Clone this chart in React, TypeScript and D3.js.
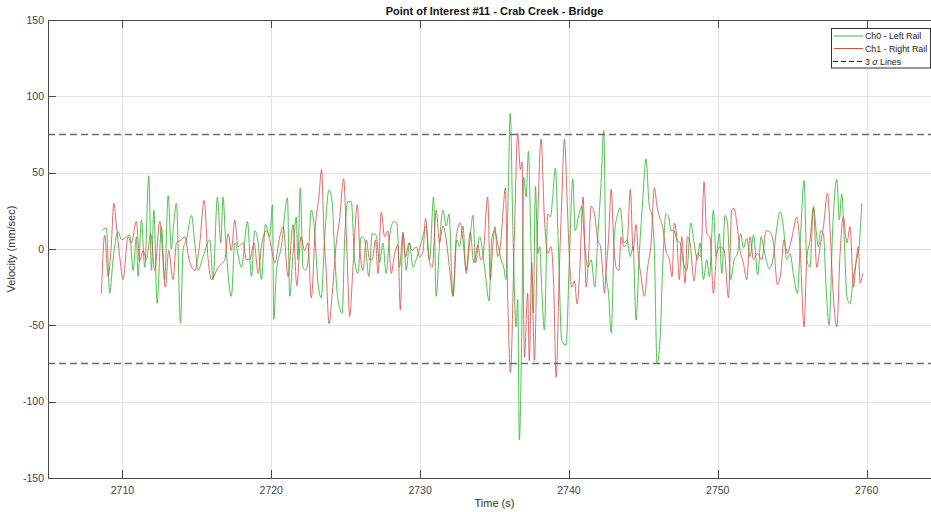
import React, { useEffect, useRef } from "react";
import * as d3 from "d3";

// Left rail velocity, [time (s), velocity (mm/sec)]
const ch0LeftRail: [number, number][] = [
  [2708.63, 12.4], [2708.92, 13.5], [2709.15, -29], [2709.37, -7], [2709.71, 11.4], [2709.93, 6], [2710.27, 8], [2710.49, 9],
  [2710.72, -14], [2710.94, 8], [2711.05, -18], [2711.28, 19], [2711.5, -12], [2711.77, 48], [2711.95, -14], [2712.11, 25.5],
  [2712.33, -35.6], [2712.62, 14.6], [2712.84, -20], [2713.07, 35], [2713.29, 0], [2713.45, 17], [2713.63, 30], [2713.9, -48.7],
  [2714.08, 0], [2714.3, 6], [2714.64, 22], [2714.86, 4], [2715.08, -14], [2715.42, -5], [2715.87, 6], [2716.09, -20],
  [2716.38, 34], [2716.61, 4], [2716.76, 34], [2716.92, 8], [2717.32, -31], [2717.55, 4], [2718.0, -12], [2718.4, 18],
  [2718.67, -18], [2718.89, 12], [2719.12, 4], [2719.34, -20], [2719.61, 16], [2719.9, 8], [2720.08, 29], [2720.17, -46],
  [2720.35, -14], [2720.68, 1.5], [2721.09, 33.6], [2721.24, -31], [2721.46, -3], [2721.68, 21], [2721.79, -7], [2721.95, 40],
  [2722.13, -12], [2722.31, -14], [2722.46, -9], [2722.69, 25.5], [2722.91, 12], [2723.14, -22.5], [2723.36, -32], [2723.58, 6],
  [2723.88, 38.6], [2724.1, 30], [2724.26, -3], [2724.48, -33], [2724.77, -42], [2724.93, 6], [2725.15, 31], [2725.38, 31],
  [2725.6, -7], [2725.82, -16], [2726.05, 8], [2726.27, 6], [2726.56, -18], [2726.78, 10], [2727.05, 9], [2727.28, -9],
  [2727.5, 4], [2727.72, -16], [2727.95, 8], [2728.22, 18], [2728.44, 17], [2728.62, -12], [2728.85, 11], [2729.07, -14],
  [2729.29, 4], [2729.52, -12], [2729.74, -7], [2730.08, 4], [2730.41, 15], [2730.64, -7], [2730.91, 34], [2731.08, -31],
  [2731.31, 4], [2731.53, 25.5], [2731.76, 15], [2731.94, 23], [2732.21, -31], [2732.47, 6], [2732.65, 1.5], [2732.88, 15],
  [2733.1, -16], [2733.33, 4], [2733.55, 22], [2733.73, -9], [2734.0, 8], [2734.33, -12], [2734.64, -34], [2734.81, 6],
  [2734.99, 12], [2735.21, 4], [2735.44, -7], [2735.62, -12], [2735.77, -20], [2735.93, 41], [2736.06, 89], [2736.24, 10],
  [2736.45, -51], [2736.56, -33], [2736.67, -125], [2736.83, -55], [2736.96, 47], [2737.12, 34], [2737.28, 64], [2737.46, -1],
  [2737.61, -42], [2737.75, 41], [2737.91, -3], [2738.04, 1.5], [2738.17, -25], [2738.35, -53], [2738.58, 23], [2738.76, 21],
  [2738.91, 34], [2739.09, 53], [2739.29, 1.5], [2739.52, -60], [2739.81, -63], [2740.03, -7], [2740.26, 46], [2740.42, 12],
  [2740.64, 21], [2740.86, 28], [2741.04, 6], [2741.27, -12], [2741.49, -7], [2741.74, -25], [2741.94, 8], [2742.16, 43],
  [2742.34, 77.5], [2742.5, -16], [2742.66, -29], [2742.84, -55], [2743.06, 10], [2743.28, 23], [2743.46, 27], [2743.69, 4],
  [2743.91, 6], [2744.13, -5], [2744.31, 1.5], [2744.51, -46.5], [2744.74, -1], [2744.96, 32], [2745.18, 59], [2745.4, 28],
  [2745.58, 22], [2745.74, -1], [2745.92, -75], [2746.12, -60], [2746.3, -12], [2746.52, 23], [2746.7, 21], [2746.86, 12],
  [2747.04, 12], [2747.26, 6], [2747.47, 4], [2747.69, -9], [2747.92, -14], [2748.19, 17], [2748.41, 4], [2748.63, -7],
  [2748.81, 4], [2749.04, -20], [2749.26, -7], [2749.44, -18], [2749.71, 25.5], [2749.89, -5], [2750.11, 10], [2750.27, -16],
  [2750.49, 22], [2750.65, 17], [2750.87, -20], [2751.1, -7], [2751.32, -3], [2751.55, 10], [2751.72, 0.5], [2751.95, 7],
  [2752.17, -5], [2752.4, 9], [2752.69, -17], [2752.91, 8], [2753.07, 1.5], [2753.25, -7], [2753.47, -13], [2753.74, -5],
  [2753.96, 13.5], [2754.19, 24.5], [2754.41, 14.6], [2754.63, -7], [2754.86, -3], [2755.08, -16], [2755.35, -29], [2755.58, 12],
  [2755.8, 45], [2755.98, -7], [2756.2, -12], [2756.43, 28], [2756.61, 12], [2756.76, 1.5], [2756.92, 12], [2757.1, 10],
  [2757.28, -25], [2757.48, -50], [2757.73, 14.6], [2758.0, 45.6], [2758.17, 19], [2758.33, 36], [2758.51, 4], [2758.67, -31],
  [2758.89, -36], [2759.12, -18], [2759.34, -7], [2759.52, 4], [2759.68, 30],
];

// Right rail velocity, [time (s), velocity (mm/sec)]
const ch1RightRail: [number, number][] = [
  [2708.59, -29], [2708.81, 9], [2709.04, -18], [2709.26, 4], [2709.42, 30], [2709.6, 15], [2709.82, -5], [2710.04, -20],
  [2710.38, 8], [2710.6, 4], [2710.94, 18], [2711.16, -8], [2711.39, -1], [2711.61, -7], [2711.9, 10], [2712.17, -14],
  [2712.51, 18], [2712.89, -25], [2713.11, -1], [2713.4, -20], [2713.63, 4], [2713.96, 6], [2714.19, 8], [2714.48, -7],
  [2714.86, -14], [2715.2, 4], [2715.49, 32], [2715.76, -7], [2715.98, -20], [2716.43, -12], [2716.88, -7], [2717.1, 10],
  [2717.32, -1], [2717.55, 19], [2717.77, 1.5], [2718.11, 4], [2718.33, -7], [2718.56, -7], [2718.85, 4], [2719.12, -16],
  [2719.34, 1.5], [2719.68, 12], [2719.9, 6], [2720.24, -9], [2720.57, 8], [2720.8, 14.6], [2721.13, -18], [2721.46, 16],
  [2721.72, -24], [2722.0, 8], [2722.24, -1], [2722.46, 4], [2722.69, -32], [2722.98, 17], [2723.2, 34], [2723.38, 52],
  [2723.54, 10], [2723.7, -16], [2723.88, -49], [2724.1, -29], [2724.37, 4], [2724.59, 19], [2724.86, 46], [2725.09, -3],
  [2725.27, -44], [2725.49, -12], [2725.78, 29], [2725.94, 1.5], [2726.16, -14], [2726.39, 6], [2726.61, -7], [2726.78, -7],
  [2727.01, 6], [2727.17, -16], [2727.39, 24], [2727.62, 8], [2727.84, 12], [2728.06, -16], [2728.29, -3], [2728.51, 2.6],
  [2728.67, -40], [2728.85, 10], [2729.03, -5], [2729.25, 4], [2729.48, -1], [2729.74, 1.5], [2729.97, -5], [2730.19, -2],
  [2730.37, 20], [2730.59, -7], [2730.82, -12], [2731.08, 25.5], [2731.31, 4], [2731.53, 15], [2731.76, 6], [2731.99, -14],
  [2732.21, -31], [2732.43, 8], [2732.7, 17], [2732.88, 6], [2733.1, -14], [2733.37, 11], [2733.61, -9], [2733.89, 2.6],
  [2734.07, -7], [2734.22, -5], [2734.54, 34], [2734.72, -20], [2734.88, 1.5], [2735.03, 14.6], [2735.21, -5], [2735.44, 6],
  [2735.6, 28], [2735.73, 40], [2735.89, -33], [2736.07, -81], [2736.34, 10], [2736.56, 76], [2736.74, 52], [2736.85, 57],
  [2737.01, -71], [2737.23, -29], [2737.34, -73], [2737.5, -9], [2737.68, -73], [2737.91, 21], [2738.13, 72], [2738.35, 21],
  [2738.58, -3], [2738.8, 1.5], [2738.98, -25], [2739.14, -84], [2739.36, -12], [2739.52, 32], [2739.7, 72], [2739.88, 32],
  [2740.03, -5], [2740.19, -25], [2740.37, -21], [2740.55, -36], [2740.71, -18], [2740.95, 34], [2741.16, -25], [2741.31, -7],
  [2741.49, 28], [2741.72, 23], [2741.94, 6], [2742.12, 1.5], [2742.28, -16], [2742.39, -29], [2742.5, -14], [2742.66, 6],
  [2742.84, 39], [2743.01, 4], [2743.17, -12], [2743.35, -14], [2743.51, 8], [2743.69, 1.5], [2743.91, 4], [2744.13, 39],
  [2744.31, -1], [2744.51, 16], [2744.67, -5], [2744.85, -18], [2745.07, -31], [2745.29, -12], [2745.52, 4], [2745.74, 40],
  [2745.92, 28], [2746.08, 21], [2746.3, 14.6], [2746.52, -1], [2746.75, -7], [2746.93, -18], [2747.09, 17], [2747.26, 6],
  [2747.42, -20], [2747.58, 8], [2747.8, -22.5], [2747.96, 8], [2748.14, 4], [2748.41, -21], [2748.63, -3], [2748.86, -5],
  [2749.08, 44], [2749.26, 10], [2749.48, 8], [2749.71, -29], [2749.93, -3], [2750.16, 1.5], [2750.43, -1], [2750.72, -32],
  [2750.94, 25.5], [2751.1, 26.6], [2751.28, 17], [2751.5, -1], [2751.72, -9], [2751.95, -20], [2752.17, 8], [2752.4, -7],
  [2752.67, -3], [2752.96, -7], [2753.25, 12], [2753.52, 11], [2753.74, 4], [2754.01, -23.5], [2754.23, -16], [2754.45, 6],
  [2754.68, -3], [2754.9, 4], [2755.08, 12], [2755.3, 21], [2755.53, 1.5], [2755.8, -51], [2755.98, -7], [2756.2, 6],
  [2756.43, 26.6], [2756.65, -12], [2756.88, 1.5], [2757.1, 14.6], [2757.37, 36.5], [2757.55, 12], [2757.73, -25], [2758.0, -51],
  [2758.22, -3], [2758.44, 21], [2758.67, 4], [2758.89, 14.6], [2759.12, -25], [2759.3, -7], [2759.45, 1.5], [2759.56, -22.5],
  [2759.74, -16],
];

const sigmaLevels = [75, -75];
const xTicks = [2710, 2720, 2730, 2740, 2750, 2760];
const yTicks = [-150, -100, -50, 0, 50, 100, 150];
const xDomain: [number, number] = [2705, 2765];
const yDomain: [number, number] = [-150, 150];

const titleText = "Point of Interest #11 - Crab Creek - Bridge";
const xLabelText = "Time (s)";
const yLabelText = "Velocity (mm/sec)";
const legendLabels = ["Ch0 - Left Rail", "Ch1 - Right Rail"];

const W = 931;
const H = 512;
const M = { left: 48, right: 941, top: 20, bottom: 478 };
const FONT = "'Liberation Sans', Arial, Helvetica, sans-serif";
const GREEN = "#3dbb3d";
const RED = "#d94a4a";
const AXIS = "#4a4a4a";

export default function App() {
  const ref = useRef<SVGSVGElement | null>(null);

  useEffect(() => {
    const svg = d3.select(ref.current);
    svg.selectAll("*").remove();

    const x = d3.scaleLinear().domain(xDomain).range([M.left, M.right]);
    const y = d3.scaleLinear().domain(yDomain).range([M.bottom, M.top]);

    svg.append("rect").attr("width", W).attr("height", H).attr("fill", "#fff");

    svg.append("defs").append("clipPath").attr("id", "plot-clip")
      .append("rect").attr("x", M.left).attr("y", M.top)
      .attr("width", M.right - M.left).attr("height", M.bottom - M.top);

    // grid
    const grid = svg.append("g").attr("stroke", "#e3e3e3").attr("stroke-width", 1);
    xTicks.forEach((t) => {
      const px = Math.round(x(t)) + 0.5;
      grid.append("line").attr("x1", px).attr("x2", px).attr("y1", M.top).attr("y2", M.bottom);
    });
    yTicks.forEach((t) => {
      const py = Math.round(y(t)) + 0.5;
      grid.append("line").attr("x1", M.left).attr("x2", M.right).attr("y1", py).attr("y2", py);
    });

    const plot = svg.append("g").attr("clip-path", "url(#plot-clip)");
    const line = d3.line<[number, number]>()
      .x((d) => x(d[0]))
      .y((d) => y(d[1]))
      .curve(d3.curveMonotoneX);

    plot.append("path").datum(ch0LeftRail).attr("d", line).attr("fill", "none")
      .attr("stroke", GREEN).attr("stroke-width", 0.9).attr("stroke-linejoin", "round");
    plot.append("path").datum(ch1RightRail).attr("d", line).attr("fill", "none")
      .attr("stroke", RED).attr("stroke-width", 0.9).attr("stroke-linejoin", "round").attr("opacity", 0.9);

    sigmaLevels.forEach((v) => {
      plot.append("line").attr("x1", M.left).attr("x2", M.right)
        .attr("y1", y(v)).attr("y2", y(v))
        .attr("stroke", "#6b6b6b").attr("stroke-width", 1.4).attr("stroke-dasharray", "7,4");
    });

    // axes box and ticks
    const ax = svg.append("g").attr("stroke", AXIS).attr("stroke-width", 1).attr("fill", "none");
    ax.append("line").attr("x1", M.left + 0.5).attr("x2", M.left + 0.5).attr("y1", M.top).attr("y2", M.bottom);
    ax.append("line").attr("x1", M.left).attr("x2", M.right).attr("y1", M.bottom + 0.5).attr("y2", M.bottom + 0.5);
    ax.append("line").attr("x1", M.left).attr("x2", M.right).attr("y1", M.top + 0.5).attr("y2", M.top + 0.5);
    const tl = 8;
    xTicks.forEach((t) => {
      const px = Math.round(x(t)) + 0.5;
      ax.append("line").attr("x1", px).attr("x2", px).attr("y1", M.bottom).attr("y2", M.bottom - tl);
      ax.append("line").attr("x1", px).attr("x2", px).attr("y1", M.top).attr("y2", M.top + tl);
    });
    yTicks.forEach((t) => {
      const py = Math.round(y(t)) + 0.5;
      ax.append("line").attr("x1", M.left).attr("x2", M.left + tl).attr("y1", py).attr("y2", py);
    });

    const labels = svg.append("g").attr("font-family", FONT).attr("fill", "#444").attr("font-size", 10.5);
    xTicks.forEach((t) => {
      labels.append("text").attr("x", x(t)).attr("y", 494).attr("text-anchor", "middle").text(String(t));
    });
    yTicks.forEach((t) => {
      labels.append("text").attr("x", 44).attr("y", y(t) + 3.8).attr("text-anchor", "end").text(String(t));
    });

    svg.append("text").attr("x", (M.left + M.right) / 2).attr("y", 14.5)
      .attr("text-anchor", "middle").attr("font-family", FONT).attr("font-weight", "bold")
      .attr("font-size", 11).attr("fill", "#111").text(titleText);

    svg.append("text").attr("x", (M.left + M.right) / 2).attr("y", 507)
      .attr("text-anchor", "middle").attr("font-family", FONT)
      .attr("font-size", 11).attr("fill", "#333").text(xLabelText);

    svg.append("text").attr("transform", `translate(15,${(M.top + M.bottom) / 2}) rotate(-90)`)
      .attr("text-anchor", "middle").attr("font-family", FONT)
      .attr("font-size", 11).attr("fill", "#333").text(yLabelText);

    // legend
    const lg = svg.append("g").attr("font-family", FONT).attr("font-size", 8.8);
    lg.append("rect").attr("x", 831.5).attr("y", 28.5).attr("width", 99).attr("height", 39.5)
      .attr("fill", "#fff").attr("stroke", "#333").attr("stroke-width", 1);
    const rows = [
      { y: 36, color: GREEN, label: legendLabels[0] },
      { y: 48.5, color: RED, label: legendLabels[1] },
    ];
    rows.forEach((r) => {
      lg.append("line").attr("x1", 834).attr("x2", 863).attr("y1", r.y).attr("y2", r.y)
        .attr("stroke", r.color).attr("stroke-width", 1);
      lg.append("text").attr("x", 865).attr("y", r.y + 3.2).attr("fill", "#222").text(r.label);
    });
    const sy = 61.5;
    lg.append("line").attr("x1", 833).attr("x2", 863).attr("y1", sy).attr("y2", sy)
      .attr("stroke", "#222").attr("stroke-width", 1.2).attr("stroke-dasharray", "5,3");
    const st = lg.append("text").attr("x", 865).attr("y", sy + 3.2).attr("fill", "#222");
    st.append("tspan").text("3 ");
    st.append("tspan").attr("font-style", "italic").text("σ");
    st.append("tspan").text(" Lines");
  }, []);

  return (
    <svg
      ref={ref}
      width={W}
      height={H}
      style={{ position: "absolute", left: 0, top: 0, display: "block" }}
    />
  );
}
